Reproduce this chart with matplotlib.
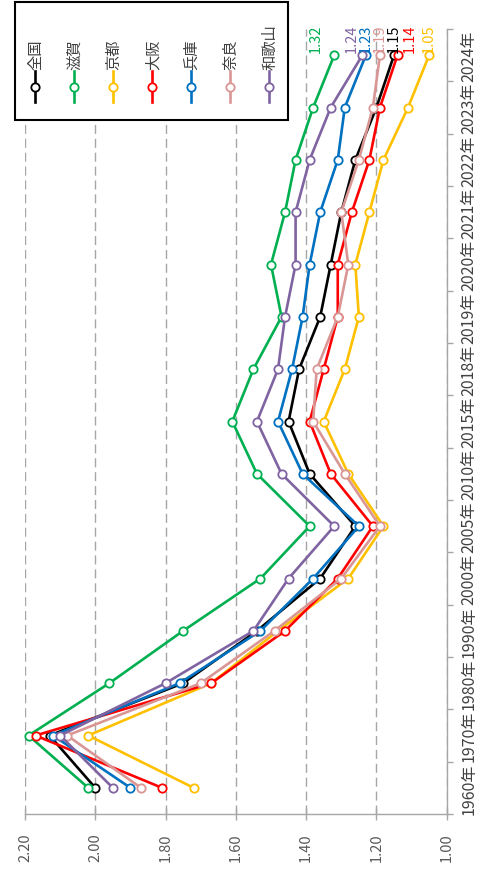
import matplotlib
matplotlib.use('Agg')
import matplotlib.pyplot as plt
from matplotlib.lines import Line2D
from matplotlib.patches import Rectangle
from matplotlib.ticker import FixedLocator, NullFormatter

plt.rcParams['font.family'] = ['Noto Sans CJK JP', 'DejaVu Sans']

# ---- data ----
years = ['1960年', '1970年', '1980年', '1990年', '2000年', '2005年', '2010年', '2015年',
         '2018年', '2019年', '2020年', '2021年', '2022年', '2023年', '2024年']
series_names = ['全国', '滋賀', '京都', '大阪', '兵庫', '奈良', '和歌山']
zenkoku = [2.00, 2.13, 1.75, 1.54, 1.36, 1.26, 1.39, 1.45, 1.42, 1.36, 1.33, 1.30, 1.26, 1.20, 1.15]
shiga = [2.02, 2.19, 1.96, 1.75, 1.53, 1.39, 1.54, 1.61, 1.55, 1.47, 1.50, 1.46, 1.43, 1.38, 1.32]
kyoto = [1.72, 2.02, 1.67, 1.48, 1.28, 1.18, 1.28, 1.35, 1.29, 1.25, 1.26, 1.22, 1.18, 1.11, 1.05]
osaka = [1.81, 2.17, 1.67, 1.46, 1.31, 1.21, 1.33, 1.39, 1.35, 1.31, 1.31, 1.27, 1.22, 1.19, 1.14]
hyogo = [1.90, 2.12, 1.76, 1.53, 1.38, 1.25, 1.41, 1.48, 1.44, 1.41, 1.39, 1.36, 1.31, 1.29, 1.23]
nara = [1.87, 2.08, 1.70, 1.49, 1.30, 1.19, 1.29, 1.38, 1.37, 1.31, 1.28, 1.30, 1.25, 1.21, 1.19]
wakayama = [1.95, 2.10, 1.80, 1.55, 1.45, 1.32, 1.47, 1.54, 1.48, 1.46, 1.43, 1.43, 1.39, 1.33, 1.24]
value_ticks = [2.20, 2.00, 1.80, 1.60, 1.40, 1.20, 1.00]

all_series = [zenkoku, shiga, kyoto, osaka, hyogo, nara, wakayama]
colors = ['#000000', '#00B050', '#FFC000', '#FF0000', '#0070C0', '#DA9694', '#8064A2']
# end-label horizontal nudges (pixels) - styling only
label_dx = [0, -18, 0, 12, 0, 0, -11]

W, H = 486, 870
fig = plt.figure(figsize=(W / 100, H / 100), dpi=100)


def fx(px):
    return px / W


def fy(py):
    return 1 - py / H


ax_left, ax_right, ax_top, ax_bottom = 25, 446.7, 30, 815
ax = fig.add_axes([fx(ax_left), fy(ax_bottom), (ax_right - ax_left) / W, (ax_bottom - ax_top) / H])

ypos = list(range(len(years)))
for i, (vals, c) in enumerate(zip(all_series, colors)):
    ax.plot(vals, ypos, color=c, lw=1.9, marker='o', ms=6, mfc='white', mec=c, mew=1.3,
            zorder=3 + i, clip_on=False)
    ax.annotate(f'{vals[-1]:.2f}', xy=(vals[-1], ypos[-1]),
                xytext=(label_dx[i] * 0.72, 2.5), textcoords='offset points',
                rotation=90, ha='center', va='bottom', color=c, fontsize=10.5, zorder=20)

ax.set_xlim(2.2, 1.0)
ax.set_ylim(-0.5, len(years) - 0.5)

ax.set_xticks(value_ticks)
ax.set_xticklabels([f'{v:.2f}' for v in value_ticks], rotation=90, fontsize=10.5, color='#595959')
ax.tick_params(axis='x', direction='inout', length=8, width=1.0, color='#A6A6A6', pad=9)

ax.yaxis.tick_right()
ax.set_yticks(ypos)
ax.set_yticklabels(years, rotation=90, va='center', ha='left', fontsize=11.5, color='#404040')
ax.yaxis.set_minor_locator(FixedLocator([p - 0.5 for p in ypos] + [ypos[-1] + 0.5]))
ax.yaxis.set_minor_formatter(NullFormatter())
ax.tick_params(axis='y', which='major', length=0, pad=10)
ax.tick_params(axis='y', which='minor', direction='out', length=4, width=1.0, color='#A6A6A6')

ax.grid(axis='x', color='#A6A6A6', linestyle=(0, (6.5, 3.5)), linewidth=1.0)
ax.set_axisbelow(True)
for s in ['top', 'left']:
    ax.spines[s].set_visible(False)
for s in ['bottom', 'right']:
    ax.spines[s].set_color('#A6A6A6')
    ax.spines[s].set_linewidth(1.0)

# ---- legend (drawn rotated) ----
box = Rectangle((fx(15), fy(121)), fx(288) - fx(15), fy(3) - fy(121), transform=fig.transFigure,
                facecolor='white', edgecolor='#000000', lw=1.5, zorder=30)
fig.add_artist(box)
x0, dx = 35, 39
for i, (name, c) in enumerate(zip(series_names, colors)):
    x = x0 + i * dx
    fig.add_artist(Line2D([fx(x), fx(x)], [fy(103), fy(72)], transform=fig.transFigure,
                          color=c, lw=1.9, zorder=31))
    fig.add_artist(Line2D([fx(x)], [fy(88)], transform=fig.transFigure, color=c, marker='o',
                          ms=6, mfc='white', mec=c, mew=1.3, zorder=32))
    fig.text(fx(x + 1), fy(70), name, rotation=90, ha='center', va='bottom', fontsize=11,
             color='#404040', zorder=33)

fig.savefig('out.png', dpi=100)
